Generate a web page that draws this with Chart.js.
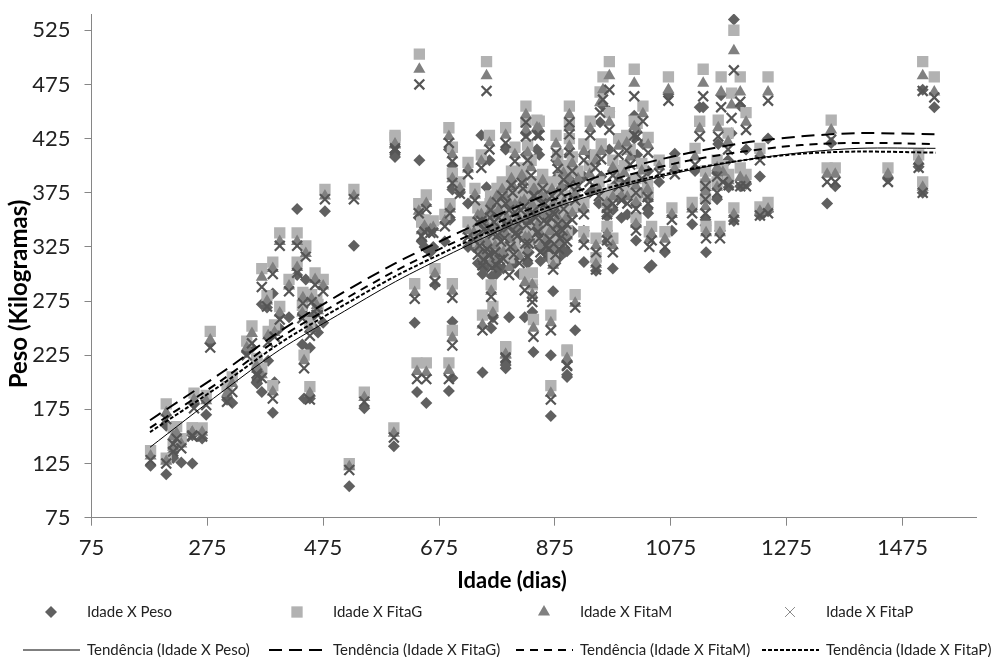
<!DOCTYPE html>
<html lang="pt">
<head>
<meta charset="utf-8">
<title>Peso x Idade</title>
<script src="https://cdn.jsdelivr.net/npm/chart.js@4/dist/chart.umd.min.js"></script>
<style>
    html, body { margin: 0; padding: 0; background: #fff; }
    #wrap { position: relative; width: 995px; height: 657px; }
    #chart { filter: blur(0.4px); }
</style>
</head>
<body>
<div id="wrap"><canvas id="chart" width="995" height="657"></canvas></div>
<script>
// Valores
const idade = [
    177,204,204,216,216,230,222,249,249,266, 252,273,280,309,318,343,352,361,369,369,
    360,380,388,391,388,378,400,400,416,430, 430,445,440,461,475,478,528,439,455,442,
    452,452,466,464,
    546,597,520,599,599,633,637,653,692,698, 698,668,640,653,645,660,641,757,748,692,
    698,698,711,725,737,762,694,685,665,650, 742,725,763,775,790,825,825,844,806,828,
    765,768,750,790,790,836,836,838,868,868, 872,896,896,896,910,925,796,823,946,946,
    925,965,965,975,990,975,1015,1038,1042,1065, 1077,1112,1036,
    969,958,953,1012,1071,1131,1162,1195,1184,1243, 1180,1205,1125,1157,1174,1117,1082,1229,1135,1135,
    1135,1155,1165,1155,1195,1205,1175,1184,1243,1229, 1160,1136,1352,1345,1359,1450,1510,1503,1510,1530,
    877,900,900,900,848,936,1027,969,1012,999, 985,1017,1036,951,880,890,905,915,925,935,
    945,955,975,985,995,1005,1015,1025,1035,1000, 1015,965,1055,
    735,745,752,758,762,768,772,778,782,786, 790,794,798,802,806,810,814,818,822,826,
    830,834,838,842,846,850,854,858,862,866, 870,874,878,882,886,890,895,900,905,910,
    748,756,764,770,776,784,792,800,808,816, 824,832,840,848,856,864,872,880,888,752,
    760,774,788,796,804,812,820,828,836,844, 852,860,868,876,884,742,750,766,780,892
];
const peso = [
    123,115,160,135,130,126,144,125,151,148, 180,170,236,184,181,228,232,199,191,272,
    200,220,172,200,282,269,262,250,260,360, 299,295,264,250,255,358,326,235,260,185,
    185,232,246,266,
    176,141,104,412,408,255,191,181,192,204, 256,290,352,345,330,320,405,380,428,415,
    400,378,375,365,340,405,350,330,325,325, 340,325,345,360,415,430,410,415,390,400,
    250,260,209,213,216,290,265,228,225,169, 284,207,205,321,248,311,260,260,312,303,
    340,340,330,305,352,359,331,306,308,320, 340,346,356,
    450,455,440,446,466,454,465,455,535,425, 430,415,454,420,405,395,411,390,370,350,
    345,393,391,369,381,383,380,349,358,354, 340,320,421,365,381,388,375,399,470,454,
    405,425,410,395,410,410,420,415,425,400, 395,410,395,365,390,380,385,370,390,375,
    380,390,380,370,375,385,365,375,360,355, 345,353,385,
    325,320,330,318,312,328,315,340,322,305, 350,335,315,360,345,325,300,365,350,335,
    320,375,358,342,328,312,370,352,338,322, 360,345,330,315,365,350,335,372,340,360,
    345,335,355,345,330,365,340,375,330,355, 320,345,365,325,345,315,350,340,335,305,
    310,300,325,355,310,340,370,310,350,330, 360,320,345,310,325,310,300,298,305,320
];
const fitaG = [
    137,130,180,158,143,148,159,158,158,158, 190,188,247,196,205,238,252,218,213,305,
    222,247,197,253,311,280,338,270,295,338, 311,326,283,301,295,378,378,271,281,225,
    196,255,272,276,
    191,158,125,428,426,291,218,218,218,248, 291,305,365,373,348,348,503,496,410,435,
    417,393,385,403,379,428,365,355,349,350, 361,348,365,379,435,455,440,442,417,419,
    290,270,262,233,232,301,290,258,262,197, 315,230,229,340,281,339,315,300,333,315,
    366,366,344,333,380,378,352,339,344,339, 361,366,375,
    496,482,468,489,482,489,482,482,525,482, 467,449,441,442,430,416,403,416,395,383,
    370,405,400,385,398,392,392,361,366,362, 344,344,442,398,398,398,385,410,496,482,
    428,455,438,425,441,441,455,449,441,428, 425,439,426,385,410,400,408,395,420,400,
    410,420,405,395,400,415,388,402,385,378, 372,372,405,
    345,338,355,336,330,350,332,365,342,325, 378,355,338,390,370,348,322,398,375,358,
    340,405,385,365,352,332,392,378,360,345, 385,368,350,335,388,372,358,395,362,380,
    362,352,372,360,348,385,358,395,350,372, 340,362,385,345,362,335,370,358,352,325,
    330,320,345,372,330,358,392,328,370,350, 378,338,365,330,345,330,320,318,325,340
];
const fitaM = [
    132,127,172,150,140,143,153,154,154,154, 184,183,239,190,199,232,245,212,207,297,
    215,243,191,246,305,275,330,264,289,330, 306,319,278,295,289,372,372,264,277,220,
    190,249,266,271,
    186,153,122,420,419,283,210,209,211,241, 284,300,358,365,340,341,489,483,404,427,
    410,388,379,397,373,421,360,349,343,344, 354,340,358,372,428,447,433,435,410,412,
    284,264,253,226,225,290,281,250,255,190, 308,222,221,335,273,332,306,292,326,309,
    360,360,337,326,372,371,346,332,337,332, 355,360,370,
    483,470,458,476,470,476,468,468,506,468, 456,440,434,435,422,408,397,410,388,376,
    362,398,394,380,389,386,386,355,360,358, 338,338,433,392,392,392,380,404,483,468,
    420,447,435,418,434,434,448,440,436,421, 418,433,419,378,403,393,402,388,413,392,
    404,413,398,388,393,408,381,395,378,371, 366,366,399,
    338,332,348,330,324,344,326,359,336,320, 371,349,332,382,364,341,316,391,368,352,
    334,398,378,358,346,326,386,371,354,339, 378,361,344,329,381,366,352,388,356,374,
    355,346,366,354,342,378,352,388,344,366, 334,356,378,339,356,329,364,352,346,319,
    324,314,339,366,324,352,385,322,364,344, 372,332,359,324,339,324,314,312,319,334
];
const fitaP = [
    128,125,166,143,136,139,148,151,150,150, 176,179,232,182,191,225,236,206,204,288,
    208,237,185,242,300,270,326,258,284,326, 301,316,273,290,284,369,369,259,274,213,
    184,243,262,268,
    182,149,119,416,414,277,203,203,203,234, 278,293,356,360,335,338,475,469,398,421,
    404,384,374,392,368,415,356,344,338,339, 348,334,352,366,421,440,427,428,404,405,
    279,258,248,223,222,279,274,242,248,184, 304,216,215,330,269,327,299,285,320,304,
    355,355,331,320,368,365,340,325,331,325, 350,356,365,
    470,461,449,464,460,464,454,459,488,460, 444,433,427,427,415,401,392,405,381,369,
    356,390,385,375,381,381,382,350,356,354, 333,333,424,385,385,385,375,398,469,463,
    412,440,429,412,428,428,441,433,428,414, 410,427,412,372,397,387,395,381,405,385,
    398,406,391,381,385,401,375,388,371,365, 360,361,393,
    332,326,341,323,317,337,320,352,330,314, 365,343,325,375,357,335,310,384,362,345,
    328,391,372,352,339,320,379,365,347,332, 372,355,338,323,375,360,346,382,350,368,
    349,340,359,348,336,372,346,382,338,359, 328,349,372,333,349,323,357,346,340,313,
    318,308,333,359,318,346,379,316,357,338, 365,326,352,318,333,318,308,306,313,328
];

// Linhas de tendência, lidas ponto a ponto
const idadeTend = [176,300,400,500,600,700,800,900,1000,1100,1200,1300,1400,1532];
const tendPeso  = [140,191,230,262,293,320,345,366,382,395,405,412,416,416];
const tendG     = [165,209,247,280,310,336,360,381,398,411,421,427,430,429];
const tendM     = [158,202,241,273,303,329,353,374,391,404,413,419,421,420];
const tendP     = [154,198,236,268,298,324,348,369,384,396,405,411,413,412];

const xTicks = [75,275,475,675,875,1075,1275,1475];
const yTicks = [75,125,175,225,275,325,375,425,475,525];

const nomes = ['Idade X Peso','Idade X FitaG','Idade X FitaM','Idade X FitaP'];
const nomesTend = ['Tendência (Idade X Peso)','Tendência (Idade X FitaG)','Tendência (Idade X FitaM)','Tendência (Idade X FitaP)'];

const pontos = (xs, ys) => xs.map((x, i) => ({ x: x, y: ys[i] }));
const CINZA = { peso: '#606060', g: '#b2b2b2', m: '#808080', p: '#555555' };
const TICK_FONT = { family: 'Lato', size: 22 };

function serie(label, ys, style, radius, fill, order, border) {
    return {
        label: label, data: pontos(idade, ys), showLine: false, order: order,
        pointStyle: style, pointRadius: radius, pointBackgroundColor: fill,
        pointBorderColor: border || fill, pointBorderWidth: border ? 2.2 : 0
    };
}
function tendencia(label, ys, dash, width) {
    return {
        label: label, data: pontos(idadeTend, ys), showLine: true, order: 0,
        borderColor: '#000', borderWidth: width, borderDash: dash, tension: 0.3,
        pointRadius: 0, fill: false
    };
}

// Títulos dos eixos e legenda em posições fixas
const rotulos = {
    id: 'rotulos',
    afterDraw(chart) {
        const ctx = chart.ctx;
        ctx.save();
        ctx.fillStyle = '#000';
        ctx.textBaseline = 'middle';
        ctx.font = 'bold 22px Lato';
        ctx.textAlign = 'center';
        ctx.fillText('Idade (dias)', 512, 581);
        ctx.save();
        ctx.translate(19, 294);
        ctx.rotate(-Math.PI / 2);
        ctx.font = 'bold 24px Lato';
        ctx.fillText('Peso (Kilogramas)', 0, 0);
        ctx.restore();

        const xTexto = [87, 333, 580, 826];
        const xMarca = [51, 297, 544, 790];
        const estilos = [
            { pointStyle: 'rectRot', radius: 6, fill: CINZA.peso },
            { pointStyle: 'rect', radius: 8, fill: CINZA.g },
            { pointStyle: 'triangle', radius: 7, fill: CINZA.m },
            { pointStyle: 'crossRot', radius: 7, fill: '#8a8a8a', stroke: 1 }
        ];
        const dashes = [[], [13, 7], [8, 6], [4, 2]];
        ctx.textAlign = 'left';
        ctx.font = '15px Lato';
        nomes.forEach((nome, i) => {
            ctx.fillStyle = '#222';
            ctx.fillText(nome, xTexto[i], 612);
            ctx.fillText(nomesTend[i], xTexto[i], 650);
            const e = estilos[i];
            ctx.fillStyle = e.fill;
            ctx.strokeStyle = e.fill;
            ctx.lineWidth = e.stroke || 0;
            Chart.helpers.drawPoint(ctx, { pointStyle: e.pointStyle, radius: e.radius, borderWidth: e.stroke || 0, rotation: 0 }, xMarca[i], 612);
            ctx.beginPath();
            ctx.setLineDash(dashes[i]);
            ctx.lineWidth = i === 0 ? 1 : 2;
            ctx.strokeStyle = '#000';
            ctx.moveTo(xTexto[i] - 64, 650);
            ctx.lineTo(xTexto[i] - 7, 650);
            ctx.stroke();
            ctx.setLineDash([]);
        });
        ctx.restore();
    }
};

new Chart(document.getElementById('chart'), {
    type: 'scatter',
    data: {
        datasets: [
            tendencia(nomesTend[0], tendPeso, [], 1),
            tendencia(nomesTend[1], tendG, [13, 7], 2),
            tendencia(nomesTend[2], tendM, [8, 6], 2),
            tendencia(nomesTend[3], tendP, [4, 2], 2),
            serie(nomes[3], fitaP, 'crossRot', 7, CINZA.p, 1, CINZA.p),
            serie(nomes[2], fitaM, 'triangle', 7, CINZA.m, 2),
            serie(nomes[1], fitaG, 'rect', 8, CINZA.g, 3),
            serie(nomes[0], peso, 'rectRot', 6, CINZA.peso, 4)
        ]
    },
    options: {
        responsive: false,
        animation: false,
        layout: { padding: { left: 0, top: 14, right: 19, bottom: 60 } },
        plugins: { legend: { display: false }, tooltip: { enabled: false } },
        scales: {
            x: {
                type: 'linear', min: 75, max: 1602,
                afterFit(axis) { axis.height = 79.3; axis.paddingLeft = 0; axis.paddingRight = 0; },
                afterBuildTicks(axis) { axis.ticks = xTicks.map(v => ({ value: v })); },
                grid: { drawOnChartArea: false, color: '#868686', tickLength: 8 },
                border: { color: '#868686' },
                ticks: { font: TICK_FONT, color: '#222', padding: 9, maxRotation: 0, autoSkip: false, callback: v => String(v) }
            },
            y: {
                min: 75, max: 540,
                afterFit(axis) { axis.width = 91.5; axis.paddingTop = 0; axis.paddingBottom = 0; },
                afterBuildTicks(axis) { axis.ticks = yTicks.map(v => ({ value: v })); },
                grid: { drawOnChartArea: false, color: '#868686', tickLength: 7 },
                border: { color: '#868686' },
                ticks: { font: TICK_FONT, color: '#222', padding: 14, autoSkip: false, callback: v => String(v) }
            }
        }
    },
    plugins: [rotulos]
});
</script>
</body>
</html>
